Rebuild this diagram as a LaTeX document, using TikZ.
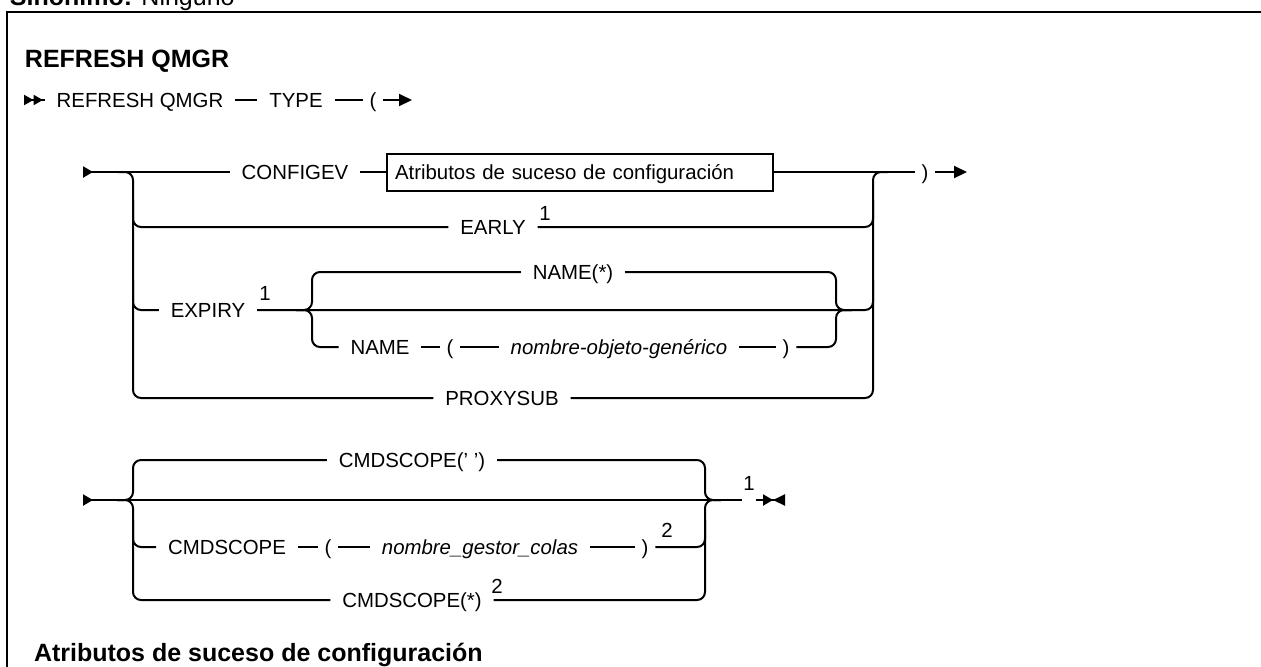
\documentclass[tikz,border=0pt]{standalone}
\usepackage{fontspec}
\setmainfont{Liberation Sans}
\usetikzlibrary{arrows.meta,positioning}

\begin{document}
\begin{tikzpicture}[x=0.5pt,y=-0.5pt,line width=1pt,
  kw/.style={font=\fontsize{10.2}{12}\selectfont,inner xsep=5.5pt,inner ysep=0pt,
    text height=7.3pt,text depth=0pt},
  var/.style={kw,font=\fontsize{10.2}{12}\selectfont\itshape},
  paren/.style={kw,inner xsep=3pt},
  note/.style={font=\fontsize{10.2}{12}\selectfont,inner sep=0pt,anchor=base},
  frag/.style={draw,kw,inner xsep=4pt,inner ysep=5.6pt,align=left,text width=185pt},
  title/.style={font=\fontsize{12.5}{15}\selectfont\bfseries,inner sep=0pt,anchor=base west},
  rail/.style={rounded corners=4pt},
  tip/.style={-{Triangle[length=6.5pt,width=6pt]}},
  begin/.style={{Triangle[length=5pt,width=5.5pt,reversed]}-},
  finish/.style={-{Triangle[length=5pt,width=5.5pt]Triangle[length=6pt,width=5.5pt,reversed]}}
]
  \useasboundingbox (0,0) rectangle (1261,666);

  % frame and headings
  \draw[line width=1.25pt] (1270,12) -| (7,680);
  \node[title] (syn) at (9,5) {Sinónimo: \mdseries Ninguno};
  \node[title] (hdr) at (24,67) {REFRESH QMGR};
  \node[title] (sub) at (33,661) {Atributos de suceso de configuración};

  % REFRESH QMGR TYPE (
  \coordinate (s1) at (24,100);
  \node[kw] (refresh) at (140,100) {REFRESH QMGR};
  \node[kw] (type) at (296,100) {TYPE};
  \node[paren] (lp1) at (373,100) {(};
  \coordinate (e1) at (412,100);
  \draw[{Triangle[length=4.75pt,width=5pt,reversed]Triangle[length=4.75pt,width=5pt,reversed]}-]
    (s1) -- (refresh.west);
  \draw (refresh.east) -- (type.west);
  \draw (type.east) -- (lp1.west);
  \draw[tip] (lp1.east) -- (e1);

  % CONFIGEV / EARLY / EXPIRY / PROXYSUB
  \coordinate (s2) at (83,172);
  \node[kw] (configev) at (295,172) {CONFIGEV};
  \node[frag] (cfgbox) at (580,172) {Atributos de suceso de configuración};
  \node[paren] (rp2) at (925,172) {)};
  \coordinate (e2) at (967,172);
  \node[kw] (early) at (493,227) {EARLY};
  \node[note] (fn1) at (545,220) {1};
  \node[kw] (expiry) at (208,310) {EXPIRY};
  \node[note] (fn2) at (265,300) {1};
  \node[kw] (namestar) at (573,272) {NAME(*)};
  \node[kw] (name) at (380,347) {NAME};
  \node[paren] (lp3) at (450,347) {(};
  \node[var] (objname) at (619,347) {nombre-objeto-genérico};
  \node[paren] (rp3) at (786,347) {)};
  \node[kw] (proxysub) at (502,398) {PROXYSUB};

  \draw[begin] (s2) -- (configev.west);
  \draw (configev.east) -- (cfgbox.west);
  \draw (cfgbox.east) -- (rp2.west);
  \draw[tip] (rp2.east) -- (e2);
  \draw[rail] (118,172) -| (133,398) -- (proxysub.west);
  \draw[rail] (133,200) |- (early.west);
  \draw[rail] (133,280) |- (expiry.west);
  \draw[rail] (proxysub.east) -| (873,172) -- (888,172);
  \draw[rail] (early.east) -| (873,200);
  \draw[rail] (expiry.east) -| (873,280);
  % NAME choice
  \draw[rail] (296,310) -| (312,272) -- (namestar.west);
  \draw[rail] (296,310) -| (312,347) -- (name.west);
  \draw[rail] (namestar.east) -| (836,310) -- (852,310);
  \draw[rail] (rp3.east) -| (836,310) -- (852,310);
  \draw (name.east) -- (lp3.west);
  \draw (lp3.east) -- (objname.west);
  \draw (objname.east) -- (rp3.west);

  % CMDSCOPE
  \coordinate (s3) at (83,500);
  \node[kw] (cmdblank) at (412,460) {CMDSCOPE(' ')};
  \node[kw] (cmdscope) at (227,547) {CMDSCOPE};
  \node[paren] (lp4) at (328,547) {(};
  \node[var] (qmgrname) at (480,547) {nombre\_gestor\_colas};
  \node[paren] (rp4) at (645,547) {)};
  \node[note] (fn4) at (667,537) {2};
  \node[kw] (cmdstar) at (412,600) {CMDSCOPE(*)};
  \node[note] (fn5) at (497,593) {2};
  \coordinate (j4) at (712,500);
  \node[note] (fn6) at (749,490) {1};
  \coordinate (e4) at (785,500);

  \draw[begin] (s3) -- (j4);
  \draw[rail] (117,500) -| (133,460) -- (cmdblank.west);
  \draw[rail] (117,500) -| (133,600) -- (cmdstar.west);
  \draw[rail] (133,520) |- (cmdscope.west);
  \draw[rail] (cmdblank.east) -| (705,500) -- (721,500);
  \draw[rail] (cmdstar.east) -| (705,500) -- (721,500);
  \draw[rail] (rp4.east) -| (705,520);
  \draw (cmdscope.east) -- (lp4.west);
  \draw (lp4.east) -- (qmgrname.west);
  \draw (qmgrname.east) -- (rp4.west);
  \draw (j4) -- (fn6.west |- j4);
  \draw[finish] (fn6.east |- j4) -- (e4);
\end{tikzpicture}
\end{document}
